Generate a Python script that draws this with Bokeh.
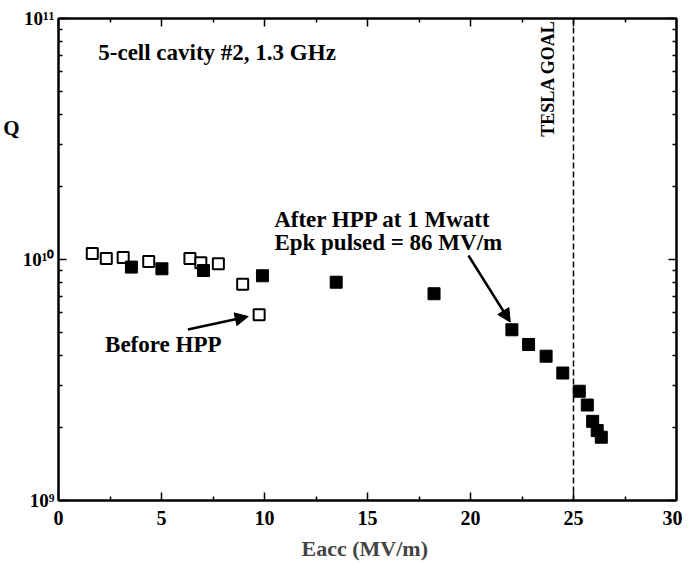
from bokeh.plotting import figure
from bokeh.models import (LinearAxis, LogAxis, Span, Label, Arrow, NormalHead,
                          CustomJSTickFormatter, Range1d, FixedTicker)
from bokeh.embed import file_html
from bokeh.resources import INLINE

# ---- data ----
before_eacc = [1.64, 2.32, 3.14, 4.38, 6.38, 6.91, 7.76, 8.94, 9.74]
before_q = [1.06e10, 1.01e10, 1.02e10, 0.98e10, 1.01e10, 0.97e10, 0.96e10, 0.79e10, 0.59e10]
after_eacc = [3.54, 5.02, 7.04, 9.90, 13.48, 18.23, 22.01, 22.82, 23.67, 24.48,
              25.28, 25.67, 25.93, 26.15, 26.35]
after_q = [0.93e10, 0.915e10, 0.90e10, 0.856e10, 0.805e10, 0.721e10, 0.511e10, 0.444e10,
           0.397e10, 0.338e10, 0.284e10, 0.249e10, 0.213e10, 0.195e10, 0.183e10]
tesla_goal = 25
x_ticks = [0, 5, 10, 15, 20, 25, 30]
y_ticks = [1e9, 1e10, 1e11]

FONT = "Liberation Serif"

p = figure(frame_width=618, frame_height=482,
           x_range=Range1d(0, 30), y_range=Range1d(1e9, 1e11), y_axis_type="log",
           output_backend="svg", toolbar_location=None,
           min_border_left=56, min_border_right=6, min_border_top=18, min_border_bottom=8,
           background_fill_color="white", border_fill_color="white")
p.grid.visible = False
p.outline_line_color = "black"
p.outline_line_width = 2

x_ticker = FixedTicker(ticks=x_ticks, minor_ticks=[2.5, 7.5, 12.5, 17.5, 22.5, 27.5])
y_minor = [k * 10 ** n for n in (9, 10) for k in range(2, 10)]
y_ticker = FixedTicker(ticks=y_ticks, minor_ticks=y_minor)

sup_code = """
const sup = {'0':'\u2070','1':'\u00b9','2':'\u00b2','3':'\u00b3','4':'\u2074','5':'\u2075',
             '6':'\u2076','7':'\u2077','8':'\u2078','9':'\u2079','-':'\u207b'};
const e = Math.round(Math.log10(tick));
return '10' + String(e).split('').map(c => sup[c]).join('');
"""

def style_axis(ax):
    ax.axis_line_color = "black"
    ax.axis_line_width = 2
    ax.major_tick_in = 8
    ax.major_tick_out = 0
    ax.minor_tick_in = 4
    ax.minor_tick_out = 0
    ax.major_tick_line_width = 1.5
    ax.minor_tick_line_width = 1.5
    ax.major_label_text_font = FONT
    ax.major_label_text_font_style = "bold"
    ax.major_label_text_color = "black"

xa = p.xaxis[0]
xa.ticker = x_ticker
style_axis(xa)
xa.major_label_text_font_size = "20px"
xa.major_label_standoff = 10
xa.axis_label = "Eacc  (MV/m)"
xa.axis_label_text_font = FONT
xa.axis_label_text_font_style = "bold"
xa.axis_label_text_font_size = "22px"
xa.axis_label_standoff = 8

ya = p.yaxis[0]
ya.ticker = y_ticker
ya.formatter = CustomJSTickFormatter(code=sup_code)
style_axis(ya)
ya.major_label_text_font_size = "19px"
ya.major_label_standoff = 4

# second, outer left axis that only carries the "Q" title at its height in the reference
q_axis = LogAxis(ticker=FixedTicker(ticks=[3.5e10], minor_ticks=[]),
                 formatter=CustomJSTickFormatter(code="return 'Q';"),
                 axis_line_color=None, major_tick_line_color=None, minor_tick_line_color=None,
                 major_tick_in=0, major_tick_out=0, minor_tick_in=0, minor_tick_out=0,
                 major_label_standoff=0, major_label_text_font=FONT,
                 major_label_text_font_style="bold", major_label_text_font_size="21px",
                 major_label_text_color="black")
p.add_layout(q_axis, "left")

blank = CustomJSTickFormatter(code="return '';")
top = LinearAxis(ticker=x_ticker, formatter=blank)
style_axis(top)
top.major_label_text_font_size = "0px"
top.major_label_standoff = 0
p.add_layout(top, "above")

right = LogAxis(ticker=y_ticker, formatter=blank)
style_axis(right)
right.major_label_text_font_size = "0px"
right.major_label_standoff = 0
p.add_layout(right, "right")

# data
p.scatter(before_eacc, before_q, marker="square", size=11, fill_color="white",
          line_color="black", line_width=2)
p.scatter(after_eacc, after_q, marker="square", size=12, fill_color="black",
          line_color="black")

p.add_layout(Span(location=tesla_goal, dimension="height", line_color="black",
                  line_width=1.5, line_dash="6 3"))

def lab(text, x, y, size="23px", angle=0, align="left"):
    p.add_layout(Label(x=x, y=y, text=text, text_font=FONT, text_font_style="bold",
                       text_font_size=size, text_color="black", angle=angle,
                       text_align=align, text_baseline="middle"))

lab("5-cell cavity #2, 1.3 GHz", 1.93, 7.25e10)
lab("After HPP at 1 Mwatt", 10.47, 1.46e10)
lab("Epk pulsed = 86 MV/m", 10.48, 1.18e10)
lab("Before HPP", 2.26, 4.44e9)
lab("TESLA GOAL", 23.75, 5.64e10, size="18px", angle=1.5707963, align="center")

p.add_layout(Arrow(end=NormalHead(size=13, fill_color="black", line_color="black"),
                   x_start=6.28, y_start=5.12e9, x_end=9.21, y_end=5.8e9,
                   line_width=2.5, line_color="black"))
p.add_layout(Arrow(end=NormalHead(size=13, fill_color="black", line_color="black"),
                   x_start=19.9, y_start=1.039e10, x_end=21.93, y_end=5.5e9,
                   line_width=2.5, line_color="black"))

open("out.html", "w").write(file_html(p, INLINE))
